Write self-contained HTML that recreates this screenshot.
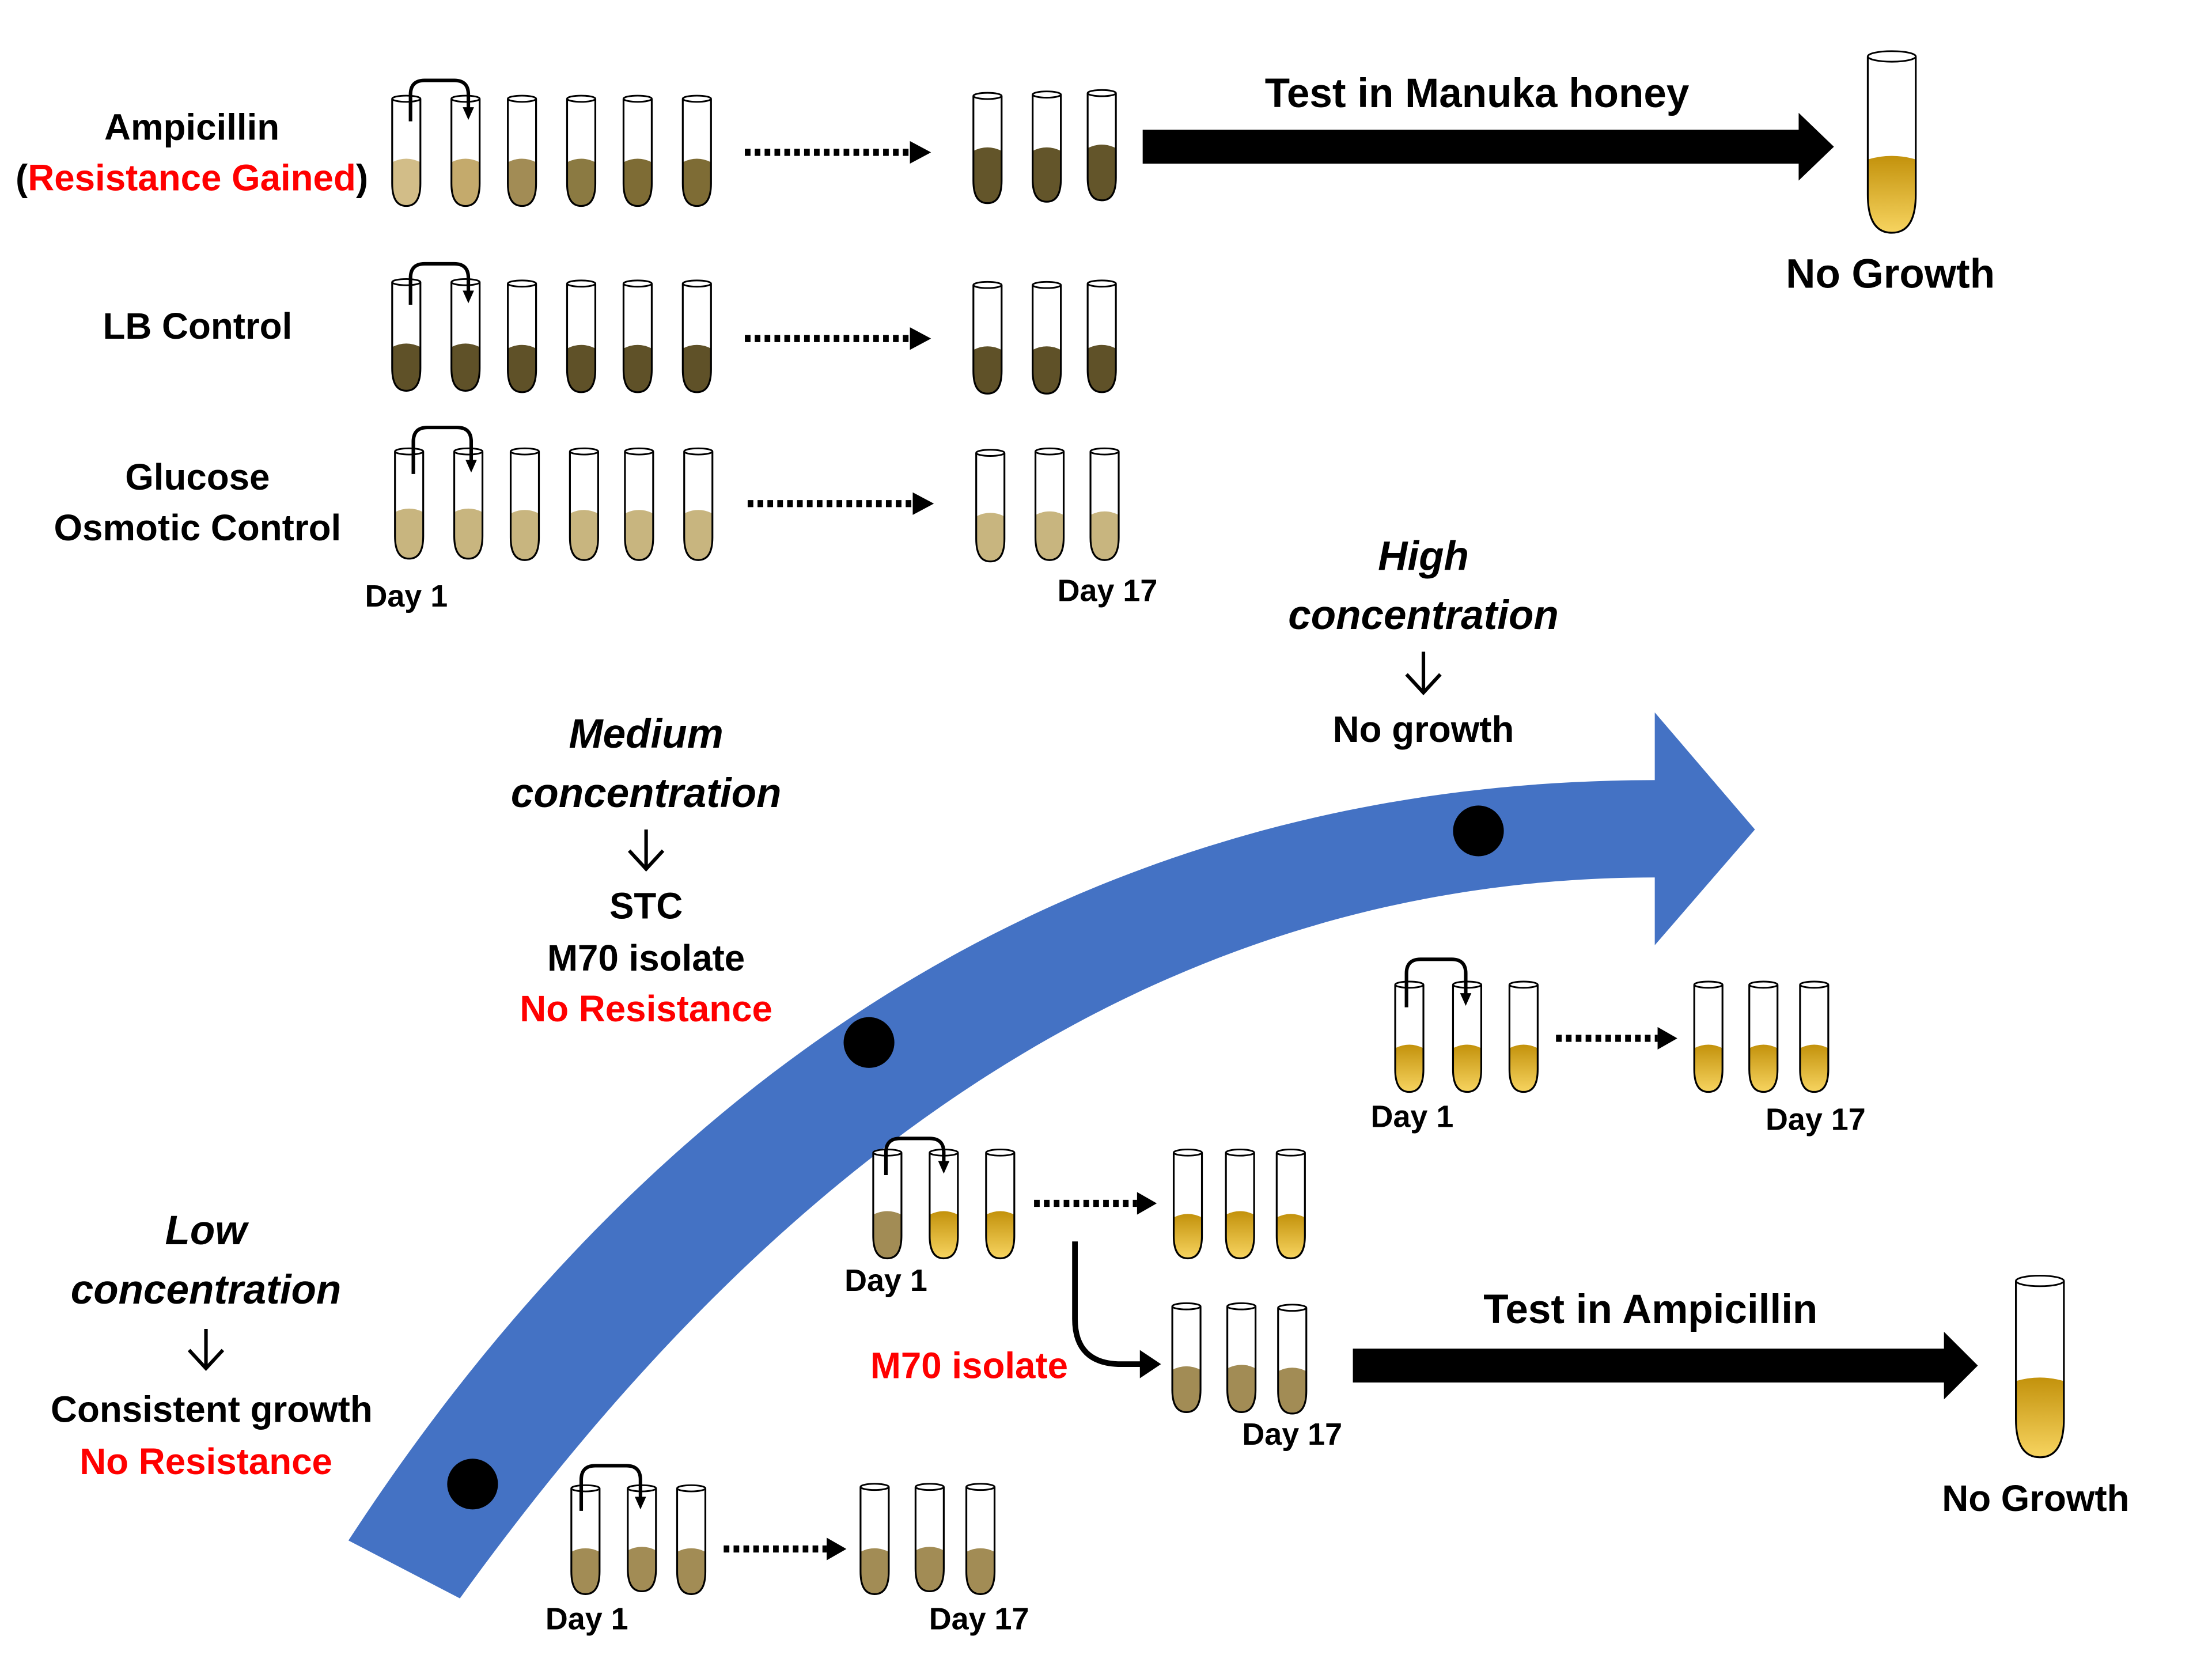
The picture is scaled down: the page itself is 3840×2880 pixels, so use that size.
<!DOCTYPE html>
<html><head><meta charset="utf-8"><style>
html,body{margin:0;padding:0;background:#fff}
svg{display:block}
text{font-family:"Liberation Sans",sans-serif;font-weight:bold;fill:#000}
</style></head><body>
<svg id="fig" width="3840" height="2880" viewBox="0 0 1568 1176" xmlns="http://www.w3.org/2000/svg">
<defs>
<linearGradient id="gold" x1="0" y1="0" x2="0" y2="1"><stop offset="0" stop-color="#c3920c"/><stop offset="1" stop-color="#f7d460"/></linearGradient>
</defs>
<path d="M247,1092 C450,780 750,553 1173,553 L1173,505 L1244,588 L1173,670 L1173,622 C800,622 530,850 326,1133 Z" fill="#4472c4"/>
<circle cx="335" cy="1052" r="18" fill="#000"/>
<circle cx="616" cy="739" r="18" fill="#000"/>
<circle cx="1048" cy="589" r="18" fill="#000"/>
<g id="tubes"></g>
<g font-size="26">
<text x="136" y="99" text-anchor="middle">Ampicillin</text>
<text x="136" y="135" text-anchor="middle">(<tspan style="fill:#f00">Resistance Gained</tspan>)</text>
<text x="140" y="240" text-anchor="middle">LB Control</text>
<text x="140" y="347" text-anchor="middle">Glucose</text>
<text x="140" y="383" text-anchor="middle">Osmotic Control</text>
<text x="288" y="430" text-anchor="middle" font-size="22">Day 1</text>
<text x="785" y="426" text-anchor="middle" font-size="22">Day 17</text>
<text x="1047" y="76" text-anchor="middle" font-size="29">Test in Manuka honey</text>
<text x="1340" y="204" text-anchor="middle" font-size="29">No Growth</text>
<text x="1009" y="404" text-anchor="middle" font-size="29" font-style="italic">High</text>
<text x="1009" y="446" text-anchor="middle" font-size="29" font-style="italic">concentration</text>
<text x="1009" y="526" text-anchor="middle">No growth</text>
<text x="458" y="530" text-anchor="middle" font-size="29" font-style="italic">Medium</text>
<text x="458" y="572" text-anchor="middle" font-size="29" font-style="italic">concentration</text>
<text x="458" y="651" text-anchor="middle">STC</text>
<text x="458" y="688" text-anchor="middle">M70 isolate</text>
<text x="458" y="724" text-anchor="middle" style="fill:#f00">No Resistance</text>
<text x="1001" y="799" text-anchor="middle" font-size="22">Day 1</text>
<text x="1287" y="801" text-anchor="middle" font-size="22">Day 17</text>
<text x="628" y="915" text-anchor="middle" font-size="22">Day 1</text>
<text x="916" y="1024" text-anchor="middle" font-size="22">Day 17</text>
<text x="687" y="977" text-anchor="middle" style="fill:#f00">M70 isolate</text>
<text x="1170" y="938" text-anchor="middle" font-size="29">Test in Ampicillin</text>
<text x="1443" y="1071" text-anchor="middle">No Growth</text>
<text x="146" y="882" text-anchor="middle" font-size="29" font-style="italic">Low</text>
<text x="146" y="924" text-anchor="middle" font-size="29" font-style="italic">concentration</text>
<text x="150" y="1008" text-anchor="middle">Consistent growth</text>
<text x="146" y="1045" text-anchor="middle" style="fill:#f00">No Resistance</text>
<text x="416" y="1155" text-anchor="middle" font-size="22">Day 1</text>
<text x="694" y="1155" text-anchor="middle" font-size="22">Day 17</text>
</g>
<g stroke="#000" stroke-width="2.5" fill="none">
<path d="M1009,462 V490 M997,478 L1009,491 L1021,478"/>
<path d="M458,588 V615 M446,603 L458,616 L470,603"/>
<path d="M146,942 V969 M134,957 L146,970 L158,957"/>
</g>
<g fill="#000">
<path d="M810,92 H1275 V80 L1300,104 L1275,128 V116 H810 Z"/>
<path d="M959,956 H1378 V944 L1402,968 L1378,992 V980 H959 Z"/>
</g>
<g stroke="#000" stroke-width="5" stroke-dasharray="4,3">
<line x1="528" y1="108" x2="645" y2="108"/>
<line x1="528" y1="240" x2="645" y2="240"/>
<line x1="530" y1="357" x2="647" y2="357"/>
<line x1="1103" y1="736" x2="1175" y2="736"/>
<line x1="733" y1="853" x2="806" y2="853"/>
<line x1="513" y1="1098" x2="586" y2="1098"/>
</g>
<g fill="#000">
<path d="M645,100 L660,108 L645,116Z"/><path d="M645,232 L660,240 L645,248Z"/><path d="M647,349 L662,357 L647,365Z"/>
<path d="M1175,728 L1189,736 L1175,744Z"/><path d="M806,845 L820,853 L806,861Z"/><path d="M586,1090 L600,1098 L586,1106Z"/>
</g>
<path d="M762,880 V935 Q762,967 795,967 H810" stroke="#000" stroke-width="4" fill="none"/>
<path d="M808,957 L823,967 L808,977Z" fill="#000"/>
</svg>
<script>
const ns="http://www.w3.org/2000/svg";
const g=document.getElementById('tubes');
// [cx, top, bottom, liquidTop, fill, width]
const tubeList=[
 [288,70,146,112,'#d2bd88',20],[330,70,146,112,'#c4aa6c',20],[370,70,146,112,'#a28c55',20],[412,70,146,112,'#8b7a42',20],[452,70,146,112,'#7e6c35',20],[494,70,146,112,'#7e6c35',20],
 [700,68,144,104,'#63552a',20],[742,67,143,104,'#63552a',20],[781,66,142,102,'#63552a',20],
 [288,200,277,243,'#5f5128',20],[330,200,277,243,'#5f5128',20],[370,201,278,244,'#5f5128',20],[412,201,278,244,'#5f5128',20],[452,201,278,244,'#5f5128',20],[494,201,278,244,'#5f5128',20],
 [700,202,279,245,'#5f5128',20],[742,202,279,245,'#5f5128',20],[781,201,278,244,'#5f5128',20],
 [290,320,396,360,'#c8b57f',20],[332,320,396,360,'#c8b57f',20],[372,320,397,361,'#c8b57f',20],[414,320,397,361,'#c8b57f',20],[453,320,397,361,'#c8b57f',20],[495,320,397,361,'#c8b57f',20],
 [702,321,398,363,'#c8b57f',20],[744,320,397,362,'#c8b57f',20],[783,320,397,362,'#c8b57f',20],
 [1341,40,165,110,'url(#gold)',34],
 [999,698,774,740,'url(#gold)',20],[1040,698,774,740,'url(#gold)',20],[1080,698,774,740,'url(#gold)',20],
 [1211,698,774,740,'url(#gold)',20],[1250,698,774,740,'url(#gold)',20],[1286,698,774,740,'url(#gold)',20],
 [629,817,892,858,'#a28c55',20],[669,817,892,858,'url(#gold)',20],[709,817,892,858,'url(#gold)',20],
 [842,817,892,860,'url(#gold)',20],[879,817,892,858,'url(#gold)',20],[915,817,892,860,'url(#gold)',20],
 [841,926,1001,968,'#a28c55',20],[880,926,1001,967,'#a28c55',20],[916,927,1002,969,'#a28c55',20],
 [1446,908,1033,976,'url(#gold)',34],
 [415,1055,1130,1097,'#a28c55',20],[455,1055,1128,1096,'#a28c55',20],[490,1055,1130,1097,'#a28c55',20],
 [620,1054,1130,1097,'#a28c55',20],[659,1054,1128,1096,'#a28c55',20],[695,1054,1130,1097,'#a28c55',20]
];
tubeList.forEach((t,i)=>{
 const [cx,top,bot,liq,col,w]=t, r=w/2, x0=cx-r, x1=cx+r;
 const grp=document.createElementNS(ns,'g');
 
 
 const body=`M${x0},${top} V${bot-r*1.6} Q${x0},${bot} ${cx},${bot} Q${x1},${bot} ${x1},${bot-r*1.6} V${top}`;
 grp.innerHTML=`<path d="${body} Z" fill="#fff"/>`+
  `<path d="M${x0},${liq+3} Q${cx},${liq-2} ${x1},${liq+3} V${bot-r*1.6} Q${x1},${bot} ${cx},${bot} Q${x0},${bot} ${x0},${bot-r*1.6} Z" fill="${col}"/>`+
  `<path d="${body}" fill="none" stroke="#000" stroke-width="1.3"/>`+
  `<ellipse cx="${cx}" cy="${top}" rx="${r}" ry="${r*0.22}" fill="#fff" stroke="#000" stroke-width="1.2"/>`;
 g.appendChild(grp);
});
// transfer loops: [fromX, toX, topY, tubeTop]
const loops=[[291,332,57,70],[291,332,187,200],[293,334,303,320],[997,1039,680,698],[628,669,807,817],[412,454,1039,1055]];
loops.forEach(l=>{
 const [a,b,y,tt]=l;
 const p=document.createElementNS(ns,'path');
 
 
 p.setAttribute('d',`M${a},${tt+16} V${y+10} Q${a},${y} ${a+10},${y} H${b-10} Q${b},${y} ${b},${y+10} V${tt+8}`);
 p.setAttribute('stroke','#000');p.setAttribute('stroke-width','2.5');p.setAttribute('fill','none');
 g.appendChild(p);
 const h=document.createElementNS(ns,'path');
 
 
 h.setAttribute('d',`M${b-4},${tt+6} L${b+4},${tt+6} L${b},${tt+15} Z`);
 g.appendChild(h);
});
</script>
</body></html>
